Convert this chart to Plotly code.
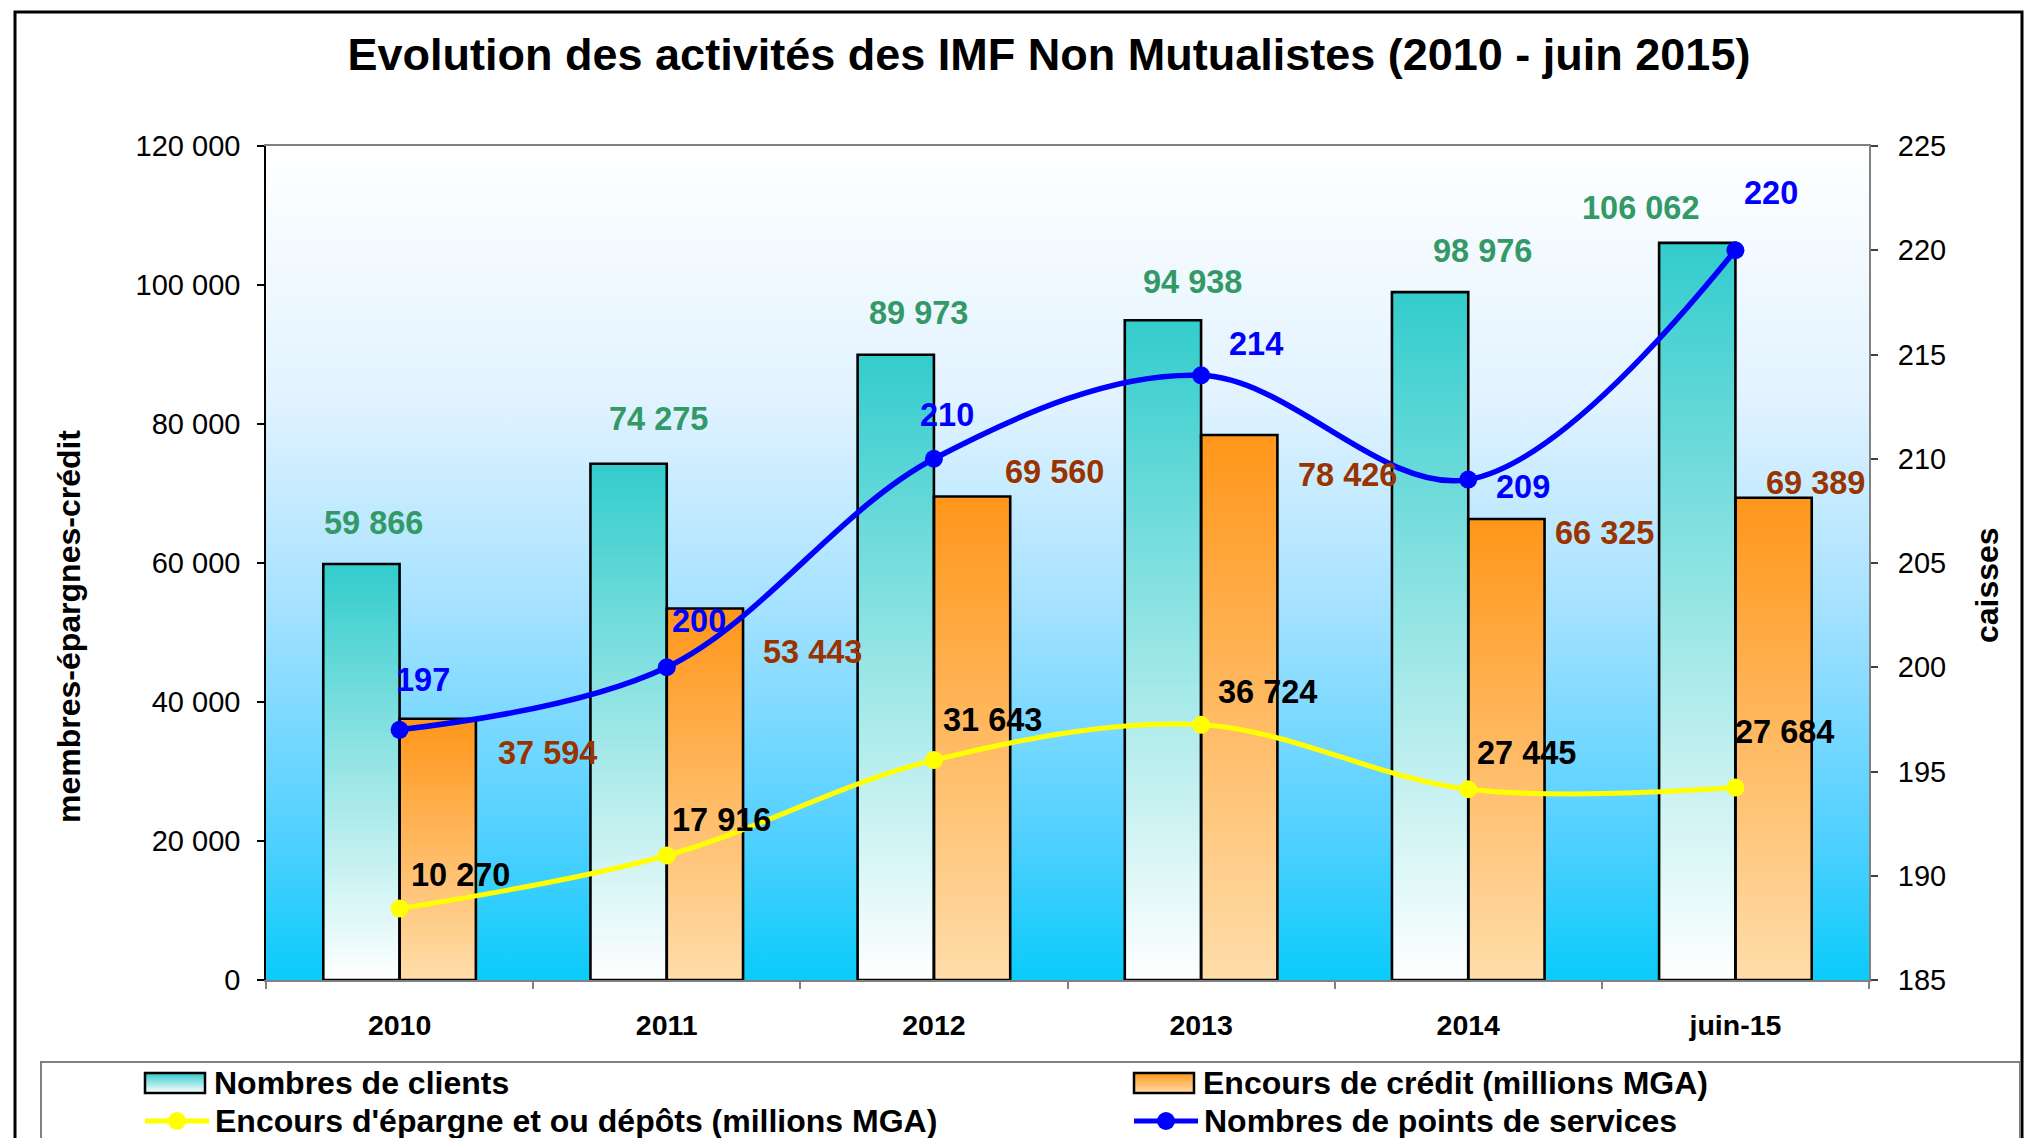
import base64
import plotly.graph_objects as go

# ---------------- data ----------------
categories = ["2010", "2011", "2012", "2013", "2014", "juin-15"]
clients = [59866, 74275, 89973, 94938, 98976, 106062]          # Nombres de clients
credit = [37594, 53443, 69560, 78426, 66325, 69389]            # Encours de crédit (millions MGA)
epargne = [10270, 17916, 31643, 36724, 27445, 27684]           # Encours d'épargne et ou dépôts
points = [197, 200, 210, 214, 209, 220]                        # Nombres de points de services

left_tick_vals = [0, 20000, 40000, 60000, 80000, 100000, 120000]
left_tick_text = ["0", "20 000", "40 000", "60 000", "80 000", "100 000", "120 000"]
right_tick_vals = [185, 190, 195, 200, 205, 210, 215, 220, 225]
right_tick_text = ["185", "190", "195", "200", "205", "210", "215", "220", "225"]

series_names = ["Nombres de clients", "Encours de crédit (millions MGA)",
                "Encours d'épargne et ou dépôts (millions MGA)", "Nombres de points de services"]

# label placement offsets (pixels, relative to category centre / value)
clients_lbl_dx = [-25.6, -8.5, -15.7, -8.7, 13.8, -94.6]
clients_lbl_dy = [-41.4, -44.8, -41.7, -38.0, -41.0, -34.5]
credit_lbl_dx = [147.5, 145.5, 120.6, 146.4, 136.3, 79.9]
credit_lbl_dy = [34.0, 43.3, -24.6, 40.0, 14.3, -14.7]
epargne_lbl_dx = [61, 55, 59, 66, 58, 49]
epargne_lbl_dy = [-34.0, -35.5, -40.0, -33.0, -36.0, -55.6]
points_lbl_dx = [23, 32, 13, 55, 55, 36]
points_lbl_dy = [-49.5, -46.5, -43.5, -31.4, 7.0, -57.0]

# ---------------- style ----------------
FONT = "Liberation Sans, Arial, sans-serif"
FIG_W, FIG_H = 2028, 1138
PL, PR, PT, PB = 266, 1869, 146, 980  # plot area pixel box
M = dict(l=PL, r=FIG_W - PR, t=PT, b=FIG_H - PB, pad=0)
PW, PH = PR - PL, PB - PT
BW = 0.2856  # bar width in category units

TEAL_TOP, TEAL_BOT = "#33CCCC", "#FFFFFF"
ORANGE_TOP, ORANGE_BOT = "#FF961A", "#FFDDAA"
C_CLIENT_LBL = "#339966"
C_CREDIT_LBL = "#993300"
C_YELLOW = "#FFFF00"
C_BLUE = "#0000FF"


def px(x):
    return (x - PL) / PW


def py(y):
    return (PB - y) / PH


def grad_uri(stops):
    s = ('<svg xmlns="http://www.w3.org/2000/svg" width="100" height="100" viewBox="0 0 100 100" '
         'preserveAspectRatio="none"><defs><linearGradient id="g" x1="0" y1="0" x2="0" y2="1">'
         + "".join(f'<stop offset="{o}" stop-color="{c}"/>' for o, c in stops)
         + '</linearGradient></defs><rect x="0" y="0" width="100" height="100" fill="url(#g)"/></svg>')
    return "data:image/svg+xml;base64," + base64.b64encode(s.encode()).decode()


BG_URI = grad_uri([(0, "#FFFFFF"), (0.3, "#E2F3FF"), (0.55, "#A6E2FF"), (0.83, "#50D0FF"), (1, "#0ACBFA")])
TEAL_URI = grad_uri([(0, TEAL_TOP), (1, TEAL_BOT)])
ORANGE_URI = grad_uri([(0, ORANGE_TOP), (1, ORANGE_BOT)])


def fmt(v):
    return f"{v:,}".replace(",", " ")


fig = go.Figure()

fig.add_trace(go.Bar(
    x=categories, y=clients, name=series_names[0], width=BW, offset=-BW,
    marker=dict(color="rgba(0,0,0,0)", line=dict(color="black", width=2.6)),
    showlegend=False, hoverinfo="x+y"))
fig.add_trace(go.Bar(
    x=categories, y=credit, name=series_names[1], width=BW, offset=0,
    marker=dict(color="rgba(0,0,0,0)", line=dict(color="black", width=2.6)),
    showlegend=False, hoverinfo="x+y"))
fig.add_trace(go.Scatter(
    x=categories, y=epargne, name=series_names[2], mode="lines+markers",
    line=dict(color=C_YELLOW, width=5, shape="spline", smoothing=1),
    marker=dict(color=C_YELLOW, size=18), showlegend=False, yaxis="y"))
fig.add_trace(go.Scatter(
    x=categories, y=points, name=series_names[3], mode="lines+markers",
    line=dict(color=C_BLUE, width=5.5, shape="spline", smoothing=1),
    marker=dict(color=C_BLUE, size=18), showlegend=False, yaxis="y2"))

images = [dict(source=BG_URI, xref="paper", yref="paper", x=0, y=1, sizex=1, sizey=1,
               xanchor="left", yanchor="top", sizing="stretch", layer="below")]
for i, v in enumerate(clients):
    images.append(dict(source=TEAL_URI, xref="x", yref="y", x=i - BW, y=0, sizex=BW, sizey=v,
                       xanchor="left", yanchor="bottom", sizing="stretch", layer="below"))
for i, v in enumerate(credit):
    images.append(dict(source=ORANGE_URI, xref="x", yref="y", x=i, y=0, sizex=BW, sizey=v,
                       xanchor="left", yanchor="bottom", sizing="stretch", layer="below"))

annotations = []
LBL_FONT = 32.5


def add_lbl(idx, val, dx, dy, color, yref="y"):
    # idx = position of the category on the category axis
    annotations.append(dict(x=idx, y=val, xref="x", yref=yref, text=f"<b>{fmt(val)}</b>",
                            showarrow=False, xshift=dx, yshift=-dy, xanchor="center", yanchor="middle",
                            font=dict(family=FONT, size=LBL_FONT, color=color)))


for i, c in enumerate(categories):
    add_lbl(i, clients[i], clients_lbl_dx[i], clients_lbl_dy[i], C_CLIENT_LBL)
    add_lbl(i, credit[i], credit_lbl_dx[i], credit_lbl_dy[i], C_CREDIT_LBL)
    add_lbl(i, epargne[i], epargne_lbl_dx[i], epargne_lbl_dy[i], "black")
    add_lbl(i, points[i], points_lbl_dx[i], points_lbl_dy[i], C_BLUE, yref="y2")

# axis titles
annotations.append(dict(x=px(69), y=py(627), xref="paper", yref="paper", text="<b>membres-épargnes-crédit</b>",
                        textangle=-90, showarrow=False, xanchor="center", yanchor="middle",
                        font=dict(family=FONT, size=32, color="black")))
annotations.append(dict(x=px(1987), y=py(585), xref="paper", yref="paper", text="<b>caisses</b>",
                        textangle=-90, showarrow=False, xanchor="center", yanchor="middle",
                        font=dict(family=FONT, size=32, color="black")))

# ---------------- manual legend ----------------
shapes = []
# outer chart border
shapes.append(dict(type="rect", xref="paper", yref="paper", x0=px(15), x1=px(2022), y0=py(1160), y1=py(12),
                   line=dict(color="black", width=3), fillcolor="rgba(0,0,0,0)", layer="below"))
# legend box
shapes.append(dict(type="rect", xref="paper", yref="paper", x0=px(41), x1=px(2020), y0=py(1160), y1=py(1062),
                   line=dict(color="#808080", width=2), fillcolor="white", layer="below"))

LEG_FONT = dict(family=FONT, size=32, color="black")
row_y = [1083, 1121]
col_x = [145, 1134]
legend_items = [
    (series_names[0], "bar", TEAL_URI, 0, 0),
    (series_names[1], "bar", ORANGE_URI, 0, 1),
    (series_names[2], "line", C_YELLOW, 1, 0),
    (series_names[3], "line", C_BLUE, 1, 1),
]
for name, kind, style, r, c in legend_items:
    x0 = col_x[c]
    yc = row_y[r]
    if kind == "bar":
        images.append(dict(source=style, xref="paper", yref="paper", x=px(x0), y=py(yc - 10),
                           sizex=60 / PW, sizey=20 / PH, xanchor="left", yanchor="top",
                           sizing="stretch", layer="above"))
        shapes.append(dict(type="rect", xref="paper", yref="paper", x0=px(x0), x1=px(x0 + 60),
                           y0=py(yc + 10), y1=py(yc - 10), line=dict(color="black", width=2.5),
                           fillcolor="rgba(0,0,0,0)", layer="above"))
        tx = x0 + 67
    else:
        shapes.append(dict(type="line", xref="paper", yref="paper", x0=px(x0), x1=px(x0 + 64),
                           y0=py(yc), y1=py(yc), line=dict(color=style, width=5), layer="above"))
        shapes.append(dict(type="circle", xref="paper", yref="paper", x0=px(x0 + 32 - 9), x1=px(x0 + 32 + 9),
                           y0=py(yc + 9), y1=py(yc - 9), line=dict(color=style, width=0),
                           fillcolor=style, layer="above"))
        tx = x0 + 68
    annotations.append(dict(x=px(tx), y=py(yc), xref="paper", yref="paper", text=f"<b>{name}</b>",
                            showarrow=False, xanchor="left", yanchor="middle", font=LEG_FONT))

fig.update_layout(
    width=FIG_W, height=FIG_H, margin=M,
    paper_bgcolor="white", plot_bgcolor="rgba(0,0,0,0)",
    font=dict(family=FONT, color="black"),
    title=dict(text="<b>Evolution des activités des IMF Non Mutualistes (2010 - juin 2015)</b>",
               x=1049 / FIG_W, xref="container", y=1 - 54.5 / FIG_H, yref="container",
               xanchor="center", yanchor="middle", font=dict(family=FONT, size=45, color="black")),
    barmode="overlay",
    showlegend=False,
    xaxis=dict(type="category", range=[-0.5, 5.5], tickson="boundaries", ticks="outside", ticklen=7,
               tickcolor="#808080", tickwidth=1.5, showline=True, linecolor="#808080", linewidth=2, mirror=True,
               showgrid=False, zeroline=False, ticklabelstandoff=19,
               tickfont=dict(family=FONT, size=28.5, color="black", weight="bold")),
    yaxis=dict(range=[0, 120000], tickvals=left_tick_vals, ticktext=left_tick_text, ticks="outside",
               ticklen=7, tickcolor="black", tickwidth=1.5, showline=True, linecolor="black", linewidth=1.5,
               showgrid=False, zeroline=False, ticklabelstandoff=11,
               tickfont=dict(family=FONT, size=29, color="black")),
    yaxis2=dict(range=[185, 225], tickvals=right_tick_vals, ticktext=right_tick_text, overlaying="y",
                side="right", ticks="outside", ticklen=7, tickcolor="#404040", tickwidth=1.5, showline=True,
                linecolor="#808080", linewidth=2, showgrid=False, zeroline=False, ticklabelstandoff=14,
                tickfont=dict(family=FONT, size=29, color="black")),
    images=images,
    shapes=shapes,
    annotations=annotations,
)

fig.write_html("out.html", config={"displayModeBar": False},
               post_script="document.body.style.margin='0';")
